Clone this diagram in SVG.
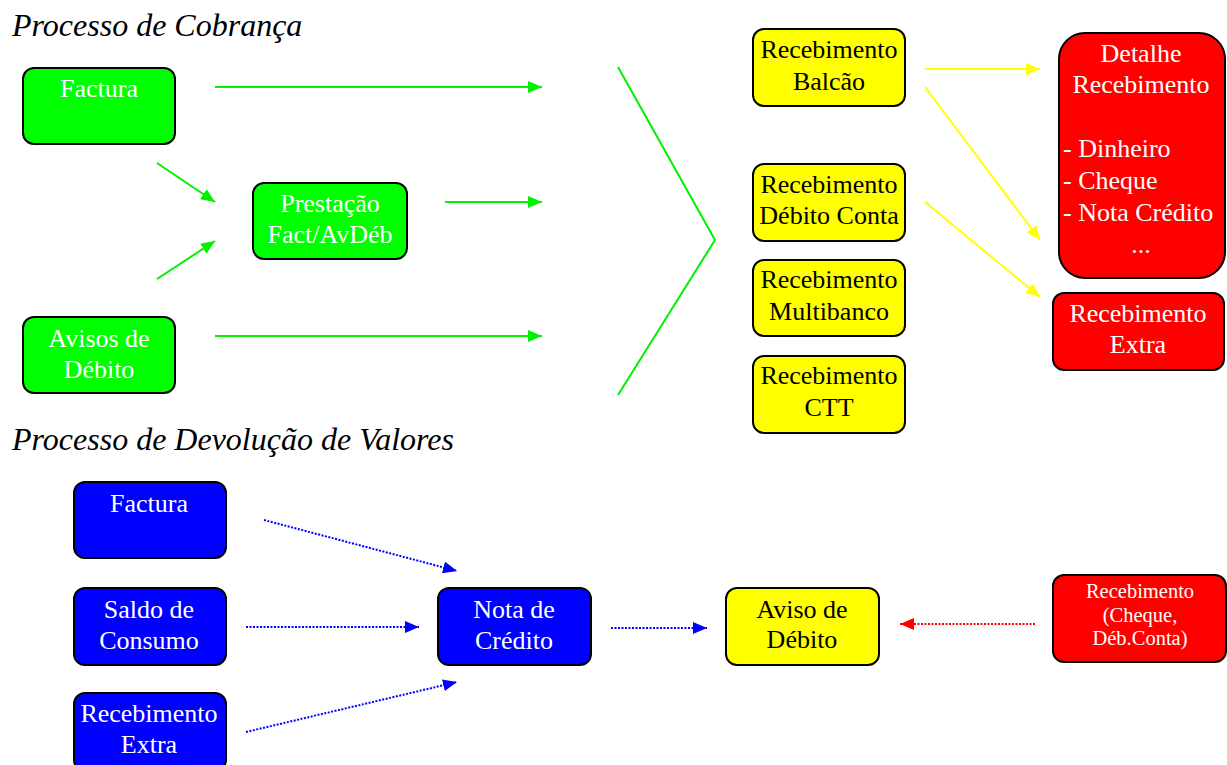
<svg xmlns="http://www.w3.org/2000/svg" width="1227" height="765" viewBox="0 0 1227 765" font-family="Liberation Serif, serif" font-size="26" text-anchor="middle">
<style>
.title{font-style:italic;font-size:32px;text-anchor:start;fill:#000}
.box{stroke:#000;stroke-width:2}
.g{fill:#00ff00}.y{fill:#ffff00}.r{fill:#ff0000}.b{fill:#0000ff}
.w{fill:#fff}.k{fill:#000}
.st{text-anchor:start}
.sm{font-size:20.5px}
.lg{stroke:#00f000;stroke-width:2;fill:none}
.ly{stroke:#ffff00;stroke-width:2;fill:none}
.lb{stroke:#0000ff;stroke-width:2;stroke-dasharray:2 1.5;fill:none}
.lr{stroke:#ff0000;stroke-width:2;stroke-dasharray:2 1.5;fill:none}
</style>
<defs>
<marker id="ag" markerUnits="userSpaceOnUse" markerWidth="14" markerHeight="12" refX="14" refY="6" orient="auto"><path d="M0,0 L14,6 L0,12 z" fill="#00f000"/></marker>
<marker id="ay" markerUnits="userSpaceOnUse" markerWidth="14" markerHeight="12" refX="14" refY="6" orient="auto"><path d="M0,0 L14,6 L0,12 z" fill="#ffff00"/></marker>
<marker id="ab" markerUnits="userSpaceOnUse" markerWidth="14" markerHeight="12" refX="14" refY="6" orient="auto"><path d="M0,0 L14,6 L0,12 z" fill="#0000ff"/></marker>
<marker id="ar" markerUnits="userSpaceOnUse" markerWidth="14" markerHeight="12" refX="14" refY="6" orient="auto"><path d="M0,0 L14,6 L0,12 z" fill="#ff0000"/></marker>
</defs>
<rect width="1227" height="765" fill="#fff"/>
<text class="title" x="12" y="36">Processo de Cobrança</text>
<text class="title" x="12" y="450">Processo de Devolução de Valores</text>

<g id="connectors">
<line class="lg" x1="215" y1="87" x2="542" y2="87" marker-end="url(#ag)"/>
<line class="lg" x1="157" y1="163" x2="215" y2="202" marker-end="url(#ag)"/>
<line class="lg" x1="157" y1="279" x2="215" y2="241" marker-end="url(#ag)"/>
<line class="lg" x1="445" y1="202" x2="542" y2="202" marker-end="url(#ag)"/>
<line class="lg" x1="215" y1="336" x2="542" y2="336" marker-end="url(#ag)"/>
<polyline class="lg" points="618,67 715,240 618,395"/>
<line class="ly" x1="925" y1="69" x2="1040" y2="69" marker-end="url(#ay)"/>
<line class="ly" x1="925" y1="87" x2="1040" y2="240" marker-end="url(#ay)"/>
<line class="ly" x1="925" y1="202" x2="1040" y2="297" marker-end="url(#ay)"/>
<line class="lb" x1="264" y1="520" x2="457" y2="571" marker-end="url(#ab)"/>
<line class="lb" x1="246" y1="627" x2="419" y2="627" marker-end="url(#ab)"/>
<line class="lb" x1="246" y1="732" x2="457" y2="682" marker-end="url(#ab)"/>
<line class="lb" x1="611" y1="628" x2="707" y2="628" marker-end="url(#ab)"/>
<line class="lr" x1="1035" y1="624" x2="900" y2="624" marker-end="url(#ar)"/>
</g>

<g id="g-factura"><rect class="box g" x="23" y="68" width="152" height="76" rx="11"/><text class="w" x="99" y="97">Factura</text></g>
<g id="g-prestacao"><rect class="box g" x="253" y="183" width="154" height="76" rx="11"/><text class="w" x="330" y="212">Prestação</text><text class="w" x="330" y="243">Fact/AvDéb</text></g>
<g id="g-avisos"><rect class="box g" x="23" y="317" width="152" height="76" rx="11"/><text class="w" x="99" y="347">Avisos de</text><text class="w" x="99" y="378">Débito</text></g>

<g id="y-balcao"><rect class="box y" x="753" y="29" width="152" height="77" rx="11"/><text class="k" x="829" y="58">Recebimento</text><text class="k" x="829" y="90">Balcão</text></g>
<g id="y-debito"><rect class="box y" x="753" y="164" width="152" height="77" rx="11"/><text class="k" x="829" y="193">Recebimento</text><text class="k" x="829" y="224">Débito Conta</text></g>
<g id="y-multibanco"><rect class="box y" x="753" y="260" width="152" height="76" rx="11"/><text class="k" x="829" y="288">Recebimento</text><text class="k" x="829" y="320">Multibanco</text></g>
<g id="y-ctt"><rect class="box y" x="753" y="356" width="152" height="77" rx="11"/><text class="k" x="829" y="384">Recebimento</text><text class="k" x="829" y="416">CTT</text></g>

<g id="r-detalhe"><rect class="box r" x="1059" y="33" width="166" height="245" rx="26"/>
<text class="w" x="1141" y="62">Detalhe</text><text class="w" x="1141" y="93">Recebimento</text>
<text class="w st" x="1063" y="157">- Dinheiro</text>
<text class="w st" x="1063" y="189">- Cheque</text>
<text class="w st" x="1063" y="221">- Nota Crédito</text>
<text class="w" x="1141" y="253">...</text></g>
<g id="r-extra"><rect class="box r" x="1053" y="293" width="171" height="77" rx="11"/><text class="w" x="1138" y="322">Recebimento</text><text class="w" x="1138" y="353">Extra</text></g>

<g id="b-factura"><rect class="box b" x="74" y="482" width="152" height="76" rx="11"/><text class="w" x="149" y="512">Factura</text></g>
<g id="b-saldo"><rect class="box b" x="74" y="588" width="152" height="77" rx="11"/><text class="w" x="149" y="618">Saldo de</text><text class="w" x="149" y="649">Consumo</text></g>
<g id="b-extra"><rect class="box b" x="74" y="693" width="152" height="78" rx="11"/><text class="w" x="149" y="722">Recebimento</text><text class="w" x="149" y="753">Extra</text></g>
<g id="b-nota"><rect class="box b" x="438" y="588" width="153" height="77" rx="11"/><text class="w" x="514" y="618">Nota de</text><text class="w" x="514" y="649">Crédito</text></g>
<g id="y-aviso"><rect class="box y" x="726" y="588" width="153" height="77" rx="11"/><text class="k" x="802" y="618">Aviso de</text><text class="k" x="802" y="648">Débito</text></g>
<g id="r-receb"><rect class="box r" x="1053" y="575" width="173" height="87" rx="11"/><text class="w sm" x="1140" y="598">Recebimento</text><text class="w sm" x="1140" y="622">(Cheque,</text><text class="w sm" x="1140" y="645">Déb.Conta)</text></g>
</svg>
